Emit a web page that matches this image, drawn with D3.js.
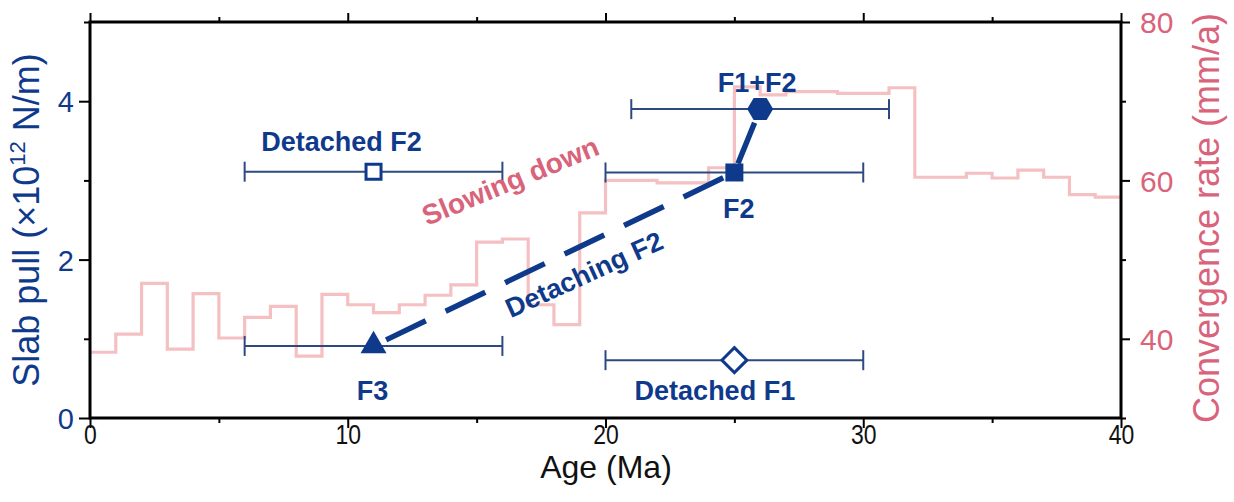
<!DOCTYPE html>
<html>
<head>
<meta charset="utf-8">
<script src="https://cdn.jsdelivr.net/npm/d3@7"></script>
<style>
  body { margin: 0; background: #fff; }
  svg { display: block; font-family: "Liberation Sans", Arial, sans-serif; }
</style>
</head>
<body>
<div id="chart"></div>
<script>
// Convergence rate (mm/a), one value per 1 Ma step
const rateAges = [0, 1, 2, 3, 4, 5, 6, 7, 8, 9, 10, 11, 12, 13, 14, 15, 16, 17, 18, 19, 20,
                  21, 22, 23, 24, 25, 26, 27, 28, 29, 30, 31, 32, 33, 34, 35, 36, 37, 38, 39, 40];
const rateValues = [38.3, 40.6, 47.0, 38.7, 45.7, 40.1, 42.7, 44.1, 37.8, 45.6, 44.3,
                    43.3, 44.3, 45.5, 46.8, 52.2, 52.6, 44.3, 41.8, 55.9, 60.0,
                    60.0, 59.7, 59.7, 61.6, 71.8, 70.8, 71.2, 71.2, 71.0, 71.0,
                    71.7, 60.4, 60.4, 60.9, 60.3, 61.3, 60.4, 58.2, 57.9, 57.9];

// Slab pull estimates (x10^12 N/m) with age uncertainty
const forceNames = ["F3", "F2", "F1+F2", "Detached F2", "Detached F1"];
const forceAges = [11, 25, 26, 11, 25];
const forceAgeErr = [5, 5, 5, 5, 5];
const forcePull = [0.91, 3.1, 3.9, 3.11, 0.73];
const forceSymbols = ["triangle", "square", "hexagon", "openSquare", "diamond"];
// the detaching path runs F3 -> F2 -> F1+F2
const pathOrder = ["F3", "F2", "F1+F2"];

// axis ticks
const xMajor = [0, 10, 20, 30, 40];
const xMinor = [5, 15, 25, 35];
const yMajor = [0, 2, 4];
const yMinor = [1, 3, 5];
const rMajor = [40, 60, 80];
const rMinor = [30, 50, 70];

const width = 1234, height = 502;
const m = { left: 90, right: 1121, top: 22, bottom: 418 };

const blue = "#0f3a8c";
const barBlue = "#2d4a80";
const pinkLine = "#f5c0c1";
const pinkText = "#d9637b";

const svg = d3.select("#chart").append("svg")
    .attr("width", width)
    .attr("height", height)
    .style("background", "#fff");

const x = d3.scaleLinear().domain([0, 40]).range([m.left, m.right]);
const y = d3.scaleLinear().domain([0, 5]).range([m.bottom, m.top]);
const yR = d3.scaleLinear().domain([30, 80]).range([m.bottom, m.top]);

// convergence rate step line
const rateLine = d3.line()
    .x((d, i) => x(rateAges[i]))
    .y(d => yR(d))
    .curve(d3.curveStepAfter);

svg.append("path")
    .datum(rateValues)
    .attr("d", rateLine)
    .attr("fill", "none")
    .attr("stroke", pinkLine)
    .attr("stroke-width", 3.2);

// axes
function styleAxis(g) {
    g.select(".domain").remove();
    g.selectAll(".tick line").attr("stroke", "#000").attr("stroke-width", 2);
}

// bottom
svg.append("g")
    .attr("transform", `translate(0,${m.bottom})`)
    .call(d3.axisBottom(x).tickValues(xMinor).tickSize(5).tickFormat(""))
    .call(styleAxis);
const xAx = svg.append("g")
    .attr("transform", `translate(0,${m.bottom})`)
    .call(d3.axisBottom(x).tickValues(xMajor).tickSize(10).tickPadding(5).tickFormat(d3.format("d")))
    .call(styleAxis);
xAx.selectAll("text")
    .attr("font-size", 28)
    .attr("fill", "#111")
    .attr("dy", "0.71em")
    .attr("y", 6)
    .attr("transform", "scale(0.82,1)");

// top
svg.append("g")
    .attr("transform", `translate(0,${m.top})`)
    .call(d3.axisTop(x).tickValues(xMinor).tickSize(5).tickFormat(""))
    .call(styleAxis);
svg.append("g")
    .attr("transform", `translate(0,${m.top})`)
    .call(d3.axisTop(x).tickValues(xMajor).tickSize(9).tickFormat(""))
    .call(styleAxis);

// left
svg.append("g")
    .attr("transform", `translate(${m.left},0)`)
    .call(d3.axisLeft(y).tickValues(yMinor).tickSize(6).tickFormat(""))
    .call(styleAxis);
const yAx = svg.append("g")
    .attr("transform", `translate(${m.left},0)`)
    .call(d3.axisLeft(y).tickValues(yMajor).tickSize(11).tickPadding(5).tickFormat(d3.format("d")))
    .call(styleAxis);
yAx.selectAll("text")
    .attr("font-size", 29)
    .attr("fill", blue)
    .attr("dy", "0.36em");

// right
svg.append("g")
    .attr("transform", `translate(${m.right},0)`)
    .call(d3.axisRight(yR).tickValues(rMinor).tickSize(5).tickFormat(""))
    .call(styleAxis);
const rAx = svg.append("g")
    .attr("transform", `translate(${m.right},0)`)
    .call(d3.axisRight(yR).tickValues(rMajor).tickSize(9).tickPadding(10).tickFormat(d3.format("d")))
    .call(styleAxis);
rAx.selectAll("text")
    .attr("font-size", 30)
    .attr("fill", pinkText)
    .attr("dy", "0.36em");

// frame
svg.append("rect")
    .attr("x", m.left).attr("y", m.top)
    .attr("width", m.right - m.left).attr("height", m.bottom - m.top)
    .attr("fill", "none")
    .attr("stroke", "#000")
    .attr("stroke-width", 3);

// axis titles
svg.append("text")
    .attr("x", 606)
    .attr("y", 478)
    .attr("text-anchor", "middle")
    .attr("font-size", 32)
    .attr("fill", "#111")
    .text("Age (Ma)");

const lt = svg.append("text")
    .attr("transform", "translate(39,220) rotate(-90)")
    .attr("text-anchor", "middle")
    .attr("font-size", 36)
    .attr("fill", blue);
lt.append("tspan").text("Slab pull (\u00d710");
lt.append("tspan").attr("font-size", 22).attr("dy", -14).text("12");
lt.append("tspan").attr("dy", 14).text(" N/m)");

svg.append("text")
    .attr("transform", "translate(1219,218) rotate(-90)")
    .attr("text-anchor", "middle")
    .attr("font-size", 36)
    .attr("fill", pinkText)
    .text("Convergence rate (mm/a)");

// error bars
const forces = forceNames.map((n, i) => ({
    name: n, age: forceAges[i], err: forceAgeErr[i], pull: forcePull[i], symbol: forceSymbols[i]
}));

const bars = svg.append("g")
    .attr("stroke", barBlue)
    .attr("stroke-width", 2)
    .attr("fill", "none");
forces.forEach(f => {
    const x0 = x(f.age - f.err), x1 = x(f.age + f.err), yy = y(f.pull);
    bars.append("line").attr("x1", x0).attr("x2", x1).attr("y1", yy).attr("y2", yy);
    bars.append("line").attr("x1", x0).attr("x2", x0).attr("y1", yy - 10).attr("y2", yy + 10);
    bars.append("line").attr("x1", x1).attr("x2", x1).attr("y1", yy - 10).attr("y2", yy + 10);
});

// detaching path
const pathPts = pathOrder.map(n => forces.find(f => f.name === n));
svg.append("path")
    .attr("d", d3.line().x(d => x(d.age)).y(d => y(d.pull))(pathPts))
    .attr("fill", "none")
    .attr("stroke", blue)
    .attr("stroke-width", 5.5)
    .attr("stroke-dasharray", "44,22")
    .attr("stroke-dashoffset", 52);

// markers
const shapes = {
    triangle: "M0,-15.3L13,7.2L-13,7.2Z",
    square: "M-9,-9H9V9H-9Z",
    hexagon: "M-13,0L-6.5,-11L6.5,-11L13,0L6.5,11L-6.5,11Z",
    openSquare: "M-7.5,-7.5H7.5V7.5H-7.5Z",
    diamond: "M0,-12.5L12.5,0L0,12.5L-12.5,0Z"
};
forces.forEach(f => {
    const open = f.symbol === "openSquare" || f.symbol === "diamond";
    svg.append("path")
        .attr("transform", `translate(${x(f.age)},${y(f.pull)})`)
        .attr("d", shapes[f.symbol])
        .attr("fill", open ? "#fff" : blue)
        .attr("stroke", blue)
        .attr("stroke-width", open ? 3 : 0);
});

// labels
const labelOffsets = {
    "F3": [-1, 54],
    "F2": [4.5, 46],
    "F1+F2": [-3, -17],
    "Detached F2": [-32, -21],
    "Detached F1": [-19.5, 40]
};
forces.forEach(f => {
    const o = labelOffsets[f.name];
    svg.append("text")
        .attr("x", x(f.age) + o[0])
        .attr("y", y(f.pull) + o[1])
        .attr("text-anchor", "middle")
        .attr("font-size", 27)
        .attr("font-weight", "bold")
        .attr("fill", blue)
        .text(f.name);
});

svg.append("text")
    .attr("transform", "translate(514,190) rotate(-22.5)")
    .attr("text-anchor", "middle")
    .attr("font-size", 28)
    .attr("font-weight", "bold")
    .attr("fill", pinkText)
    .text("Slowing down");

svg.append("text")
    .attr("transform", "translate(588,283) rotate(-24.5)")
    .attr("text-anchor", "middle")
    .attr("font-size", 27)
    .attr("font-weight", "bold")
    .attr("fill", blue)
    .text("Detaching F2");
</script>
</body>
</html>
